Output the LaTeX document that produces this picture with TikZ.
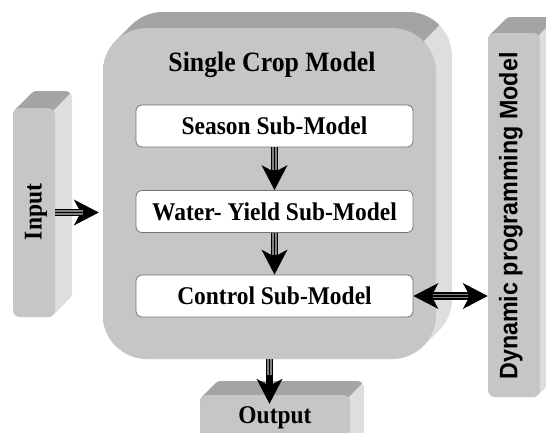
\documentclass[tikz,border=0pt]{standalone}
\usepackage{fontspec}
\setmainfont{Liberation Serif}[FakeStretch=0.92]
\setsansfont{Liberation Sans}[FakeStretch=0.92]
\usetikzlibrary{arrows.meta}
\definecolor{facec}{HTML}{C6C6C6}
\definecolor{topc}{HTML}{A4A4A4}
\definecolor{sidec}{HTML}{DEDEDE}
\definecolor{shaftc}{HTML}{808080}
% #1 x0, #2 y0, #3 x1, #4 y1 (front face, y downwards), #5 radius, #6 depth
\newcommand\extrusion[6]{%
  \foreach \k in {0,0.5,...,#6}{\fill[sidec,rounded corners=#5] (#1+\k,#2-\k) rectangle (#3+\k,#4-\k);}
  \begin{scope}
    \pgfmathsetmacro\px{#3-#5+0.7071*#5}
    \pgfmathsetmacro\py{#2+#5-0.7071*#5}
    \clip (\px+1000,\py-1000) -- (\px-1000,\py+1000) -- (\px-1000,\py-1000) -- cycle;
    \foreach \k in {0,0.5,...,#6}{\fill[topc,rounded corners=#5] (#1+\k,#2-\k) rectangle (#3+\k,#4-\k);}
  \end{scope}
}
\tikzset{
  face/.style={fill=facec, draw=none, inner sep=0pt},
  serifbold/.style={font=\bfseries\fontsize{25.5}{28}\selectfont},
  subbox/.style={serifbold, draw=black!55, line width=0.8pt, fill=white, rounded corners=6pt,
    minimum width=277pt, minimum height=42pt, inner sep=0pt},
  bigtip/.tip={Stealth[length=25pt 0 0,width=26pt 0 0,inset=7pt,line width=0pt]},
  triarrow/.style={draw=black, line width=7.5pt, -bigtip,
    postaction={draw=shaftc, line width=4.4pt, -, shorten >=20pt},
    postaction={draw=black, line width=1.4pt, -, shorten >=20pt}},
  dblarrow/.style={draw=black, line width=7.5pt, bigtip-bigtip,
    postaction={draw=shaftc, line width=4.4pt, -, shorten >=20pt, shorten <=20pt},
    postaction={draw=black, line width=1.4pt, -, shorten >=20pt, shorten <=20pt}}
}
\begin{document}
\begin{tikzpicture}[x=1pt,y=-1pt]
\useasboundingbox (0,0) rectangle (546,432);
% extruded solids
\extrusion{103}{28}{436}{359}{44}{16}
\extrusion{13}{108}{55}{317}{7}{17}
\extrusion{488}{33}{540}{397}{7}{16}
\extrusion{200}{395}{350}{460}{7}{14}
% front faces
\node[face, rounded corners=44pt, minimum width=333pt, minimum height=331pt] (main) at (269.5,193.5) {};
\node[face, rounded corners=7pt, minimum width=42pt, minimum height=209pt] (input) at (34,212.5) {};
\node[face, rounded corners=7pt, minimum width=52pt, minimum height=364pt] (dyn) at (514,215) {};
\node[face, rounded corners=7pt, minimum width=150pt, minimum height=65pt] (output) at (275,427.5) {};
% texts
\node[font=\bfseries\fontsize{28}{30}\selectfont] (title) at (272,65) {Single Crop Model};
\node[serifbold, rotate=90] (inputtxt) at (36,212) {Input};
\node[font=\sffamily\bfseries\fontsize{25.3}{27}\selectfont, rotate=90] (dyntxt) at (511,216) {Dynamic programming Model};
\node[serifbold] (outputtxt) at (275,418) {Output};
% sub-models
\node[subbox] (season) at (274.5,126) {Season Sub-Model};
\node[subbox] (water) at (274.5,211.5) {Water- Yield Sub-Model};
\node[subbox] (control) at (274.5,296) {Control Sub-Model};
% connectors
\draw[triarrow] (season.south) -- (water.north);
\draw[triarrow] (water.south) -- (control.north);
\draw[triarrow, shorten >=4pt] (input.east) -- (input.east -| main.west);
\draw[triarrow, shorten >=-9pt] (main.south) -- (main.south |- output.north);
\draw[dblarrow] (control.east) -- (control.east -| dyn.west);
\end{tikzpicture}
\end{document}
